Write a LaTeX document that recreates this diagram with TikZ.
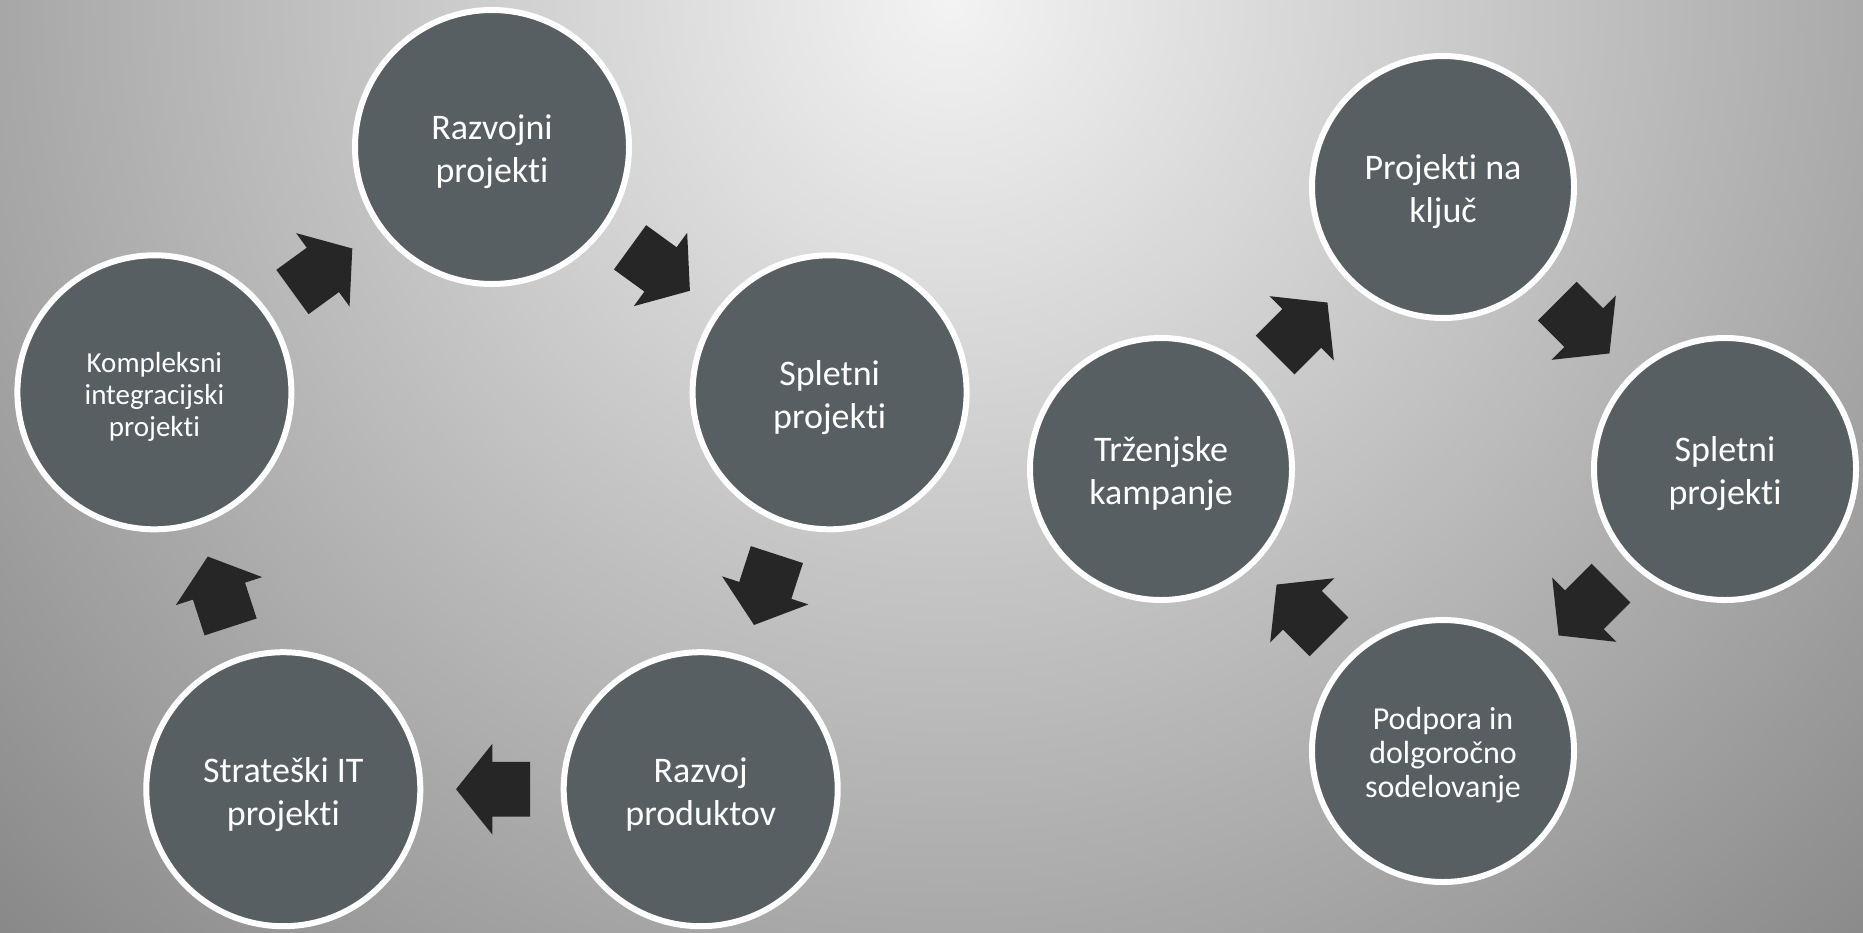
\documentclass[tikz,border=0pt]{standalone}
\usepackage{fontspec}
\setmainfont{Carlito}[Ligatures=NoCommon]
\usepackage{tikz}
\usetikzlibrary{calc}
\usetikzlibrary{shapes.arrows}

\definecolor{bubblefill}{HTML}{585F63}
\definecolor{arrowfill}{HTML}{262626}
\definecolor{bglight}{HTML}{F3F3F3}
\definecolor{bgdark}{HTML}{838383}

\tikzset{
  bubble/.style={circle, fill=bubblefill, draw=white, line width=3pt, inner sep=0pt,
    text=white, align=center, font=\fontsize{18}{21.5}\selectfont, text height=39pt,
    minimum size=137pt},
  smallbubble/.style={bubble, minimum size=131pt},
  cyclearrow/.style={single arrow, fill=arrowfill, draw=none, inner sep=0pt,
    text height=13.5pt, text depth=13.5pt, text width=0pt, minimum height=37pt,
    single arrow head extend=9pt, single arrow tip angle=102.6}
}

\begin{document}
\begin{tikzpicture}[x=0.5pt, y=-0.5pt]
\useasboundingbox (0,0) rectangle (1863,932);
\clip (0,0) rectangle (1863,932);
\shade[inner color=bglight, outer color=bgdark] (950,0) circle (1400);

\node[bubble] (raz) at (492,147) {Razvojni\\projekti};
\node[bubble] (spl) at (829.6,392.3) {Spletni\\projekti};
\node[bubble] (prod) at (700.7,789.2) {Razvoj\\produktov};
\node[bubble] (str) at (283.3,789.2) {Strateški IT\\projekti};
\node[bubble, font=\fontsize{14.5}{16}\selectfont, text height=46.5pt] (kom) at (154.4,392.3) {Kompleksni\\integracijski\\projekti};

\node[cyclearrow, rotate=-36] (a1) at ($(raz)!0.5!(spl)!6pt!(raz)$) {};
\node[cyclearrow, rotate=-108] (a2) at ($(spl)!0.5!(prod)!6pt!(spl)$) {};
\node[cyclearrow, rotate=180] (a3) at ($(prod)!0.5!(str)!6pt!(prod)$) {};
\node[cyclearrow, rotate=108] (a4) at ($(str)!0.5!(kom)!6pt!(str)$) {};
\node[cyclearrow, rotate=36] (a5) at ($(kom)!0.5!(raz)!6pt!(kom)$) {};

\node[smallbubble] (kljuc) at (1443,187) {Projekti na\\ključ};
\node[smallbubble] (splet) at (1725,469) {Spletni\\projekti};
\node[smallbubble, font=\fontsize{16}{17}\selectfont, text height=49pt] (podp) at (1443,751) {Podpora in\\dolgoročno\\sodelovanje};
\node[smallbubble] (trz) at (1161,469) {Trženjske\\kampanje};

\node[cyclearrow, rotate=-45] (b1) at ($(kljuc)!0.5!(splet)!6pt!(kljuc)$) {};
\node[cyclearrow, rotate=-135] (b2) at ($(splet)!0.5!(podp)!6pt!(splet)$) {};
\node[cyclearrow, rotate=135] (b3) at ($(podp)!0.5!(trz)!6pt!(podp)$) {};
\node[cyclearrow, rotate=45] (b4) at ($(trz)!0.5!(kljuc)!6pt!(trz)$) {};
\end{tikzpicture}
\end{document}
